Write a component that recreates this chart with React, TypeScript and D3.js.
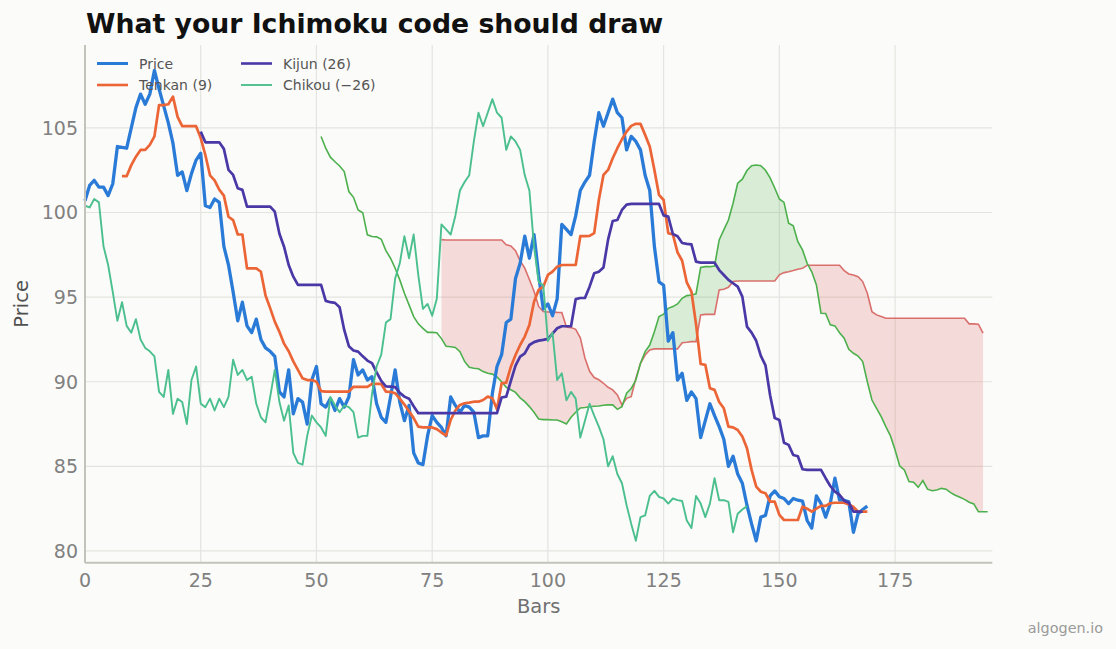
import React from "react";
import * as d3 from "d3";

const W = 1116;
const H = 649;

const xTicks = [0, 25, 50, 75, 100, 125, 150, 175];
const yTicks = [80, 85, 90, 95, 100, 105];

// Close price, bars 0..169
const price = [
  100.7, 101.6, 101.9, 101.5, 101.5, 101.0, 101.7, 103.9, 103.85, 103.8,
  105.0, 106.2, 107.0, 106.4, 107.0, 108.4, 107.3, 106.3, 105.3, 104.1,
  102.2, 102.4, 101.3, 102.3, 103.1, 103.5, 100.4, 100.3, 100.8, 100.6,
  98.0, 96.9, 95.3, 93.6, 94.7, 93.3, 92.9, 93.7, 92.5, 92.0,
  91.8, 91.5, 89.4, 89.1, 90.7, 88.1, 89.0, 88.8, 87.5, 90.1,
  90.9, 88.7, 88.5, 89.0, 88.3, 89.0, 88.5, 89.1, 91.3, 90.4,
  90.7, 90.1, 90.3, 88.7, 87.9, 87.6, 89.1, 90.7, 88.8, 87.7,
  88.6, 85.8, 85.2, 85.1, 86.8, 88.0, 87.6, 87.3, 86.8, 89.1,
  88.6, 88.2, 88.6, 88.5, 88.2, 86.7, 86.8, 86.8, 89.3, 90.9,
  91.6, 93.5, 93.7, 96.1, 97.0, 98.6, 97.3, 98.7, 96.3, 94.3,
  94.6, 93.9, 94.9, 99.3, 99.0, 98.7, 99.8, 101.3, 101.8, 102.2,
  104.2, 105.9, 105.1, 105.9, 106.7, 105.9, 105.6, 103.7, 104.5, 104.2,
  103.7, 102.2, 101.3, 98.0, 95.9, 95.7, 92.4, 92.9, 90.1, 90.5,
  88.9, 89.4, 89.0, 86.7, 87.7, 88.7, 88.0, 87.35, 86.6, 85.0,
  85.6, 84.55, 84.0, 82.7, 81.6, 80.6, 82.0, 82.1, 83.25, 83.55,
  83.2, 83.1, 82.8, 83.1, 83.0, 82.95, 81.8, 81.35, 83.25, 82.8,
  82.0, 82.8, 84.3, 83.0, 83.0, 82.9, 81.1, 82.2, 82.45, 82.65,
];

// Tenkan (9), bars 8..169
const tenkanStart = 8;
const tenkan = [
  102.15, 102.15, 102.8, 103.3, 103.7, 103.7, 104.0, 104.5, 106.35, 106.35,
  106.4, 106.85, 105.65, 105.1, 105.1, 105.1, 105.1, 104.4, 103.4, 102.2,
  101.9, 101.35, 101.0, 99.75, 99.55, 98.7, 98.7, 96.7, 96.7, 96.7,
  96.5, 95.1, 94.35, 93.55, 92.95, 92.25, 91.8, 91.2, 90.7, 90.2,
  90.1, 90.1, 90.0, 89.45, 89.42, 89.42, 89.42, 89.42, 89.42, 89.42,
  89.7, 89.7, 89.7, 89.7, 89.87, 89.87, 89.87, 89.42, 89.4, 89.32,
  89.0, 88.65, 88.25, 87.85, 87.35, 87.3, 87.3, 87.3, 87.2, 87.0,
  86.82, 87.74, 88.3, 88.63, 88.73, 88.77, 88.82, 88.82, 88.92, 89.12,
  89.02, 88.37, 89.91, 89.95, 90.89, 91.58, 92.17, 92.67, 93.36, 94.73,
  95.43, 95.62, 96.31, 96.51, 96.8, 96.9, 96.9, 96.9, 96.9, 98.6,
  98.6, 98.62, 98.78, 100.74, 102.22, 102.52, 103.21, 103.8, 104.33, 104.78,
  105.12, 105.24, 105.24, 104.59, 103.9, 102.52, 101.04, 100.74, 98.78, 98.7,
  97.65, 97.15, 95.87, 95.33, 93.4, 91.05, 91.0, 89.62, 89.52, 88.8,
  88.43, 87.35, 87.3, 87.15, 86.76, 86.07, 84.79, 83.8, 83.5, 83.41,
  82.91, 82.91, 82.13, 81.83, 81.83, 81.83, 81.83, 82.62, 82.5, 82.32,
  82.5, 82.66, 82.66, 82.82, 82.85, 82.85, 82.85, 82.75, 82.6, 82.32,
  82.32, 82.32,
];

// Kijun (26), bars 25..169
const kijunStart = 25;
const kijun = [
  104.78, 104.15, 104.15, 104.15, 104.15, 103.76, 102.52, 102.22, 101.43, 101.34,
  100.35, 100.35, 100.35, 100.35, 100.35, 100.35, 100.05, 98.75, 97.98, 96.9,
  96.21, 95.72, 95.72, 95.72, 95.72, 95.72, 95.72, 94.78, 94.7, 94.66,
  94.4, 93.06, 92.1, 91.85, 91.78, 91.5, 91.25, 91.1, 90.55, 90.05,
  89.73, 89.71, 89.68, 89.35, 89.12, 89.0, 88.55, 88.14, 88.14, 88.14,
  88.14, 88.14, 88.14, 88.14, 88.14, 88.14, 88.14, 88.14, 88.14, 88.14,
  88.14, 88.14, 88.14, 88.14, 88.14, 89.07, 89.12, 90.05, 90.95, 91.48,
  91.68, 92.17, 92.34, 92.43, 92.47, 92.53, 92.85, 93.16, 93.28, 93.28,
  93.28, 94.88, 94.95, 94.95, 95.62, 96.41, 96.5, 96.75, 98.4, 99.5,
  99.56, 100.15, 100.47, 100.51, 100.51, 100.51, 100.51, 100.51, 100.51, 100.51,
  99.83, 99.76, 98.73, 98.6, 98.2, 98.15, 98.12, 97.1, 97.04, 97.04,
  97.04, 97.04, 96.6, 96.31, 96.02, 95.82, 95.62, 95.03, 93.26, 92.9,
  92.42, 91.53, 90.97, 89.2, 87.85, 87.74, 86.4, 86.27, 85.67, 85.6,
  84.83, 84.79, 84.79, 84.79, 84.79, 84.3, 83.84, 83.5, 83.31, 82.97,
  82.85, 82.32, 82.32, 82.32,
];

// Chikou is the close plotted 26 bars back
const chikouShift = -26;

// Senkou A, bars 51..195
const senkouAStart = 51;
const senkouA = [
  104.49, 103.8, 103.27, 103.0, 102.75, 102.42, 101.24, 100.9, 100.15, 99.99,
  98.68, 98.58, 98.56, 98.42, 97.75, 97.3, 96.71, 96.02, 95.23, 94.54,
  93.85, 93.42, 93.15, 92.92, 92.92, 92.9, 92.55, 92.1, 92.07, 92.03,
  91.78, 91.2, 90.86, 90.8, 90.77, 90.6, 90.5, 90.45, 90.28, 90.0,
  89.67, 89.53, 89.37, 89.05, 88.82, 88.53, 88.2, 87.8, 87.76, 87.76,
  87.74, 87.74, 87.64, 87.51, 87.9, 88.2, 88.45, 88.48, 88.52, 88.55,
  88.57, 88.61, 88.63, 88.63, 88.37, 88.53, 89.32, 89.6, 90.1, 91.09,
  91.78, 92.17, 92.96, 93.85, 93.99, 94.34, 94.44, 94.6, 94.93, 95.09,
  95.13, 95.2, 96.76, 96.8, 96.8, 96.84, 98.38, 98.97, 99.56, 100.55,
  101.73, 101.97, 102.48, 102.77, 102.81, 102.77, 102.5, 102.05, 101.45, 100.8,
  100.6, 99.37, 99.21, 98.28, 97.79, 97.0, 96.5, 95.72, 94.05, 94.03,
  93.36, 93.3, 92.9, 92.57, 91.92, 91.68, 91.52, 91.19, 90.0, 88.92,
  88.43, 87.94, 87.35, 86.8, 85.97, 85.02, 84.79, 84.1, 84.06, 83.76,
  84.16, 83.65, 83.56, 83.6, 83.7, 83.65, 83.45, 83.29, 83.17, 83.05,
  82.88, 82.78, 82.32, 82.32, 82.32,
];

// Senkou B, bars 77..195
const senkouBStart = 77;
const senkouB = [
  98.4, 98.38, 98.38, 98.38, 98.38, 98.38, 98.38, 98.38, 98.38, 98.38,
  98.38, 98.38, 98.38, 98.38, 98.09, 98.03, 97.74, 97.15, 96.71, 96.04,
  95.35, 94.45, 94.15, 94.12, 94.12, 94.1, 94.09, 93.23, 93.2, 93.1,
  92.6, 91.4, 90.62, 90.25, 90.12, 89.91, 89.67, 89.52, 89.22, 88.63,
  89.02, 89.12, 90.2, 91.09, 91.58, 91.88, 91.94, 91.94, 91.94, 91.94,
  91.94, 91.94, 92.31, 92.33, 92.37, 92.37, 93.95, 93.98, 93.98, 93.98,
  95.43, 95.47, 95.58, 95.92, 95.95, 95.95, 95.95, 95.95, 95.95, 95.95,
  95.95, 95.95, 95.95, 96.32, 96.45, 96.5, 96.57, 96.65, 96.7, 96.88,
  96.88, 96.88, 96.88, 96.88, 96.88, 96.88, 96.88, 96.57, 96.37, 96.31,
  96.21, 95.92, 95.23, 94.14, 93.95, 93.85, 93.75, 93.75, 93.75, 93.75,
  93.75, 93.75, 93.75, 93.75, 93.75, 93.75, 93.75, 93.75, 93.75, 93.75,
  93.75, 93.75, 93.75, 93.75, 93.42, 93.42, 93.4, 92.87,
];

const legendItems = [
  { label: "Price", color: "#2a7bd7", width: 3 },
  { label: "Tenkan (9)", color: "#ec6536", width: 2.6 },
  { label: "Kijun (26)", color: "#4a38a6", width: 2.6 },
  { label: "Chikou (\u221226)", color: "#4bbf8e", width: 1.9 },
];

type P = [number, number];

export default function App() {
  const x = d3.scaleLinear().domain([0, 196]).range([85, 992.3]);
  const y = d3.scaleLinear().domain([79.3, 109.9]).range([562.8, 45]);

  const pts = (arr: number[], start: number): P[] => arr.map((v, i) => [start + i, v]);
  const line = d3.line<P>().x((d) => x(d[0])).y((d) => y(d[1]));

  // cloud rows where both spans exist, with crossing points inserted
  const rows: { t: number; a: number; b: number }[] = [];
  const endBar = senkouBStart + senkouB.length - 1;
  for (let t = senkouBStart; t <= endBar; t++) {
    const a = senkouA[t - senkouAStart];
    const b = senkouB[t - senkouBStart];
    if (rows.length) {
      const p = rows[rows.length - 1];
      const d0 = p.a - p.b;
      const d1 = a - b;
      if (d0 * d1 < 0) {
        const f = d0 / (d0 - d1);
        const xa = p.t + f;
        const va = p.a + (a - p.a) * f;
        rows.push({ t: xa, a: va, b: va });
      }
    }
    rows.push({ t, a, b });
  }
  const greenArea = d3
    .area<{ t: number; a: number; b: number }>()
    .x((d) => x(d.t))
    .y0((d) => y(d.b))
    .y1((d) => y(Math.max(d.a, d.b)));
  const redArea = d3
    .area<{ t: number; a: number; b: number }>()
    .x((d) => x(d.t))
    .y0((d) => y(d.a))
    .y1((d) => y(Math.max(d.a, d.b)));

  const chikouPts: P[] = price
    .map((v, i) => [i + chikouShift, v] as P)
    .filter((d) => d[0] >= 0);

  const font = "'DejaVu Sans', sans-serif";
  const left = 85;
  const right = 992.3;
  const top = 45;
  const bottom = 562.8;

  return (
    <svg
      width={W}
      height={H}
      style={{ position: "absolute", left: 0, top: 0, display: "block" }}
      fontFamily={font}
    >
      <rect x={0} y={0} width={W} height={H} fill="#fbfbf9" />
      {/* grid */}
      {xTicks.map((t) => (
        <line key={"gx" + t} x1={x(t)} x2={x(t)} y1={top} y2={bottom} stroke="#e3e3df" strokeWidth={1.2} />
      ))}
      {yTicks.map((t) => (
        <line key={"gy" + t} x1={left} x2={right} y1={y(t)} y2={y(t)} stroke="#e3e3df" strokeWidth={1.2} />
      ))}

      {/* cloud */}
      <path d={greenArea(rows) || ""} fill="#5cb85c" fillOpacity={0.22} stroke="none" />
      <path d={redArea(rows) || ""} fill="#d9534f" fillOpacity={0.19} stroke="none" />
      <path d={line(pts(senkouB, senkouBStart)) || ""} fill="none" stroke="#d6625e" strokeWidth={1.6} strokeOpacity={0.9} />
      <path d={line(pts(senkouA, senkouAStart)) || ""} fill="none" stroke="#4cb04c" strokeWidth={1.6} />

      {/* main lines */}
      <path d={line(pts(price, 0)) || ""} fill="none" stroke="#2a7bd7" strokeWidth={3.3} strokeLinejoin="round" />
      <path d={line(pts(tenkan, tenkanStart)) || ""} fill="none" stroke="#ec6536" strokeWidth={2.7} strokeLinejoin="round" />
      <path d={line(pts(kijun, kijunStart)) || ""} fill="none" stroke="#4a38a6" strokeWidth={2.7} strokeLinejoin="round" />
      <path d={line(chikouPts) || ""} fill="none" stroke="#4bbf8e" strokeWidth={1.9} strokeLinejoin="round" />

      {/* spines */}
      <line x1={left} x2={left} y1={top} y2={bottom} stroke="#c3c3bb" strokeWidth={2} />
      <line x1={left} x2={right} y1={bottom} y2={bottom} stroke="#c3c3bb" strokeWidth={2} />

      {/* tick labels */}
      {xTicks.map((t) => (
        <text key={"tx" + t} x={x(t)} y={587} textAnchor="middle" fontSize={19} fill="#808080">
          {t}
        </text>
      ))}
      {yTicks.map((t) => (
        <text key={"ty" + t} x={78} y={y(t) + 6.8} textAnchor="end" fontSize={19} fill="#808080">
          {t}
        </text>
      ))}

      {/* axis labels */}
      <text x={(left + right) / 2} y={613} textAnchor="middle" fontSize={19.5} fill="#707070">
        Bars
      </text>
      <text
        transform={`translate(28, ${(top + bottom) / 2}) rotate(-90)`}
        textAnchor="middle"
        fontSize={19.5}
        fill="#505050"
      >
        Price
      </text>

      {/* title */}
      <text x={86} y={33} fontSize={26.7} fontWeight="bold" fill="#111">
        What your Ichimoku code should draw
      </text>

      {/* legend */}
      {legendItems.map((it, i) => {
        const col = Math.floor(i / 2);
        const row = i % 2;
        const lx = col === 0 ? 97 : 241;
        const ly = row === 0 ? 63.5 : 85;
        return (
          <g key={it.label}>
            <line x1={lx} x2={lx + 31} y1={ly} y2={ly} stroke={it.color} strokeWidth={it.width} />
            <text x={lx + 42} y={ly + 5} fontSize={14} fill="#555">
              {it.label}
            </text>
          </g>
        );
      })}

      {/* watermark */}
      <text x={1103} y={633} textAnchor="end" fontSize={14.4} fill="#9a9a9a">
        algogen.io
      </text>
    </svg>
  );
}
